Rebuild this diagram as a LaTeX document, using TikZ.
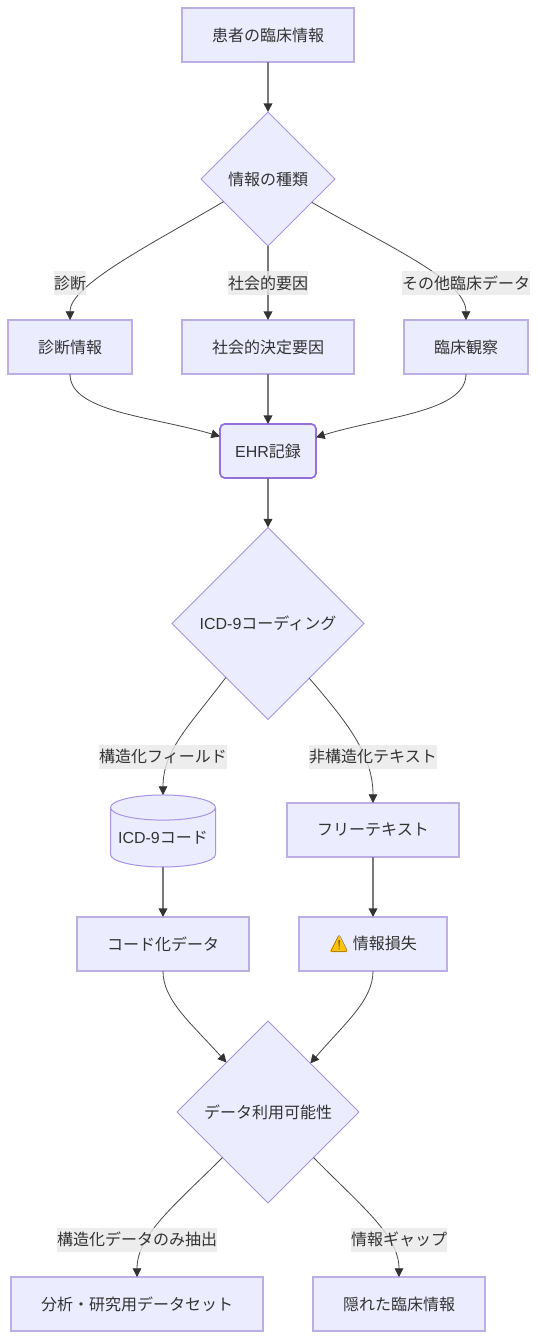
\documentclass[tikz,border=0pt]{standalone}
\usepackage{fontspec}
\setmainfont{Noto Sans CJK JP}
\newfontfamily\latin{Liberation Sans}
\newfontfamily\emojifont{Noto Emoji}
\usetikzlibrary{arrows.meta,shapes.geometric}
\definecolor{nodefill}{HTML}{ECECFF}
\definecolor{nodeline}{HTML}{BDAEE6}
\definecolor{thinline}{HTML}{A893E2}
\definecolor{ehrline}{HTML}{9370DB}
\definecolor{ink}{HTML}{333333}
\definecolor{greyline}{HTML}{7A7A7A}
\definecolor{labelbg}{HTML}{E8E8E8}
\tikzset{
  base/.style={fill=nodefill,draw=nodeline,line width=1.2pt,text=ink,inner sep=0pt,outer sep=0pt,font=\fontsize{12}{14}\selectfont},
  procbox/.style={base,rectangle,minimum width=#1*0.75pt,minimum height=54*0.75pt},
  ehrbox/.style={base,rectangle,draw=ehrline,rounded corners=3.5pt,line width=1.3pt,minimum width=96*0.75pt,minimum height=54*0.75pt},
  choice/.style={base,diamond,draw=thinline,line width=0.75pt,aspect=1,minimum width=#1*0.75pt,minimum height=#1*0.75pt},
  dbase/.style={base,cylinder,draw=thinline,line width=0.75pt,shape border rotate=90,aspect=0.28,minimum width=105*0.75pt,minimum height=72*0.75pt},
  edgeline/.style={draw=ink!90,line width=0.6pt,-{Stealth[inset=0pt,length=6.5pt,width=6.5pt,color=ink]}},
  straightline/.style={draw=greyline,line width=1.2pt,-{Stealth[inset=0pt,length=6.5pt,width=6.5pt,color=ink]}},
  edgetext/.style={rectangle,fill=labelbg,fill opacity=0.8,text opacity=1,text=ink,inner sep=0pt,minimum width=#1*0.75pt,minimum height=24*0.75pt,font=\fontsize{12}{14}\selectfont},
}
\begin{document}
\begin{tikzpicture}[x=0.75pt,y=-0.75pt]
\path[use as bounding box] (0,0) rectangle (538,1339);
\node[procbox=172] (A) at (268,35) {患者の臨床情報};
\node[choice=134] (B) at (268,179) {情報の種類};
\node[procbox=124] (C) at (70,347) {診断情報};
\node[procbox=172] (D) at (268,347) {社会的決定要因};
\node[procbox=124] (E) at (466,347) {臨床観察};
\node[ehrbox] (F) at (268,451) {{\latin EHR}記録};
\node[choice=192] (G) at (268,623.5) {{\latin ICD-9}コーディング};
\node[dbase] (H) at (163,837.5) {{\latin ICD-9}コード};
\node[procbox=172] (I) at (373,830) {フリーテキスト};
\node[procbox=172] (J) at (163,944) {コード化データ};
\node[procbox=148,path picture={
  \fill[yellow!55!orange,rounded corners=0.8pt]
   ([xshift=-34.4*0.75pt,yshift=8.5*0.75pt]path picture bounding box.center)
   -- ([xshift=-43.5*0.75pt,yshift=-8*0.75pt]path picture bounding box.center)
   -- ([xshift=-25.5*0.75pt,yshift=-8*0.75pt]path picture bounding box.center) -- cycle;
}] (K) at (373,944) {{\emojifont\color[HTML]{8A5E00}⚠} 情報損失};
\node[choice=182] (L) at (268,1112) {データ利用可能性};
\node[procbox=252] (M) at (137,1304) {分析・研究用データセット};
\node[procbox=172] (N) at (399,1304) {隠れた臨床情報};

\draw[straightline] (A) -- (B);
\draw[edgeline] (B.207.6) .. controls (150,245) and (70,285) .. (C.north);
\draw[straightline] (B) -- (D);
\draw[edgeline] (B.332.4) .. controls (385,245) and (466,280) .. (E.north);
\draw[edgeline] (C.south) .. controls (70,412) and (150,416) .. (F.163.7);
\draw[straightline] (D) -- (F);
\draw[edgeline] (E.south) .. controls (466,412) and (386,416) .. (F.16.3);
\draw[straightline] (F) -- (G);
\draw[edgeline] (G.232.4) .. controls (190,725) and (163,750) .. (H.north);
\draw[edgeline] (G.307.6) .. controls (347,722) and (373,755) .. (I.north);
\draw[straightline] (H.south) -- (J.north);
\draw[straightline] (I) -- (K);
\draw[edgeline] (J.south) .. controls (163,1000) and (190,1022) .. (L.130.6);
\draw[edgeline] (K.south) .. controls (373,1000) and (346,1022) .. (L.49.4);
\draw[edgeline] (L.225) .. controls (175,1205) and (137,1235) .. (M.north);
\draw[edgeline] (L.315) .. controls (360,1205) and (399,1235) .. (N.north);

\node[edgetext=32] (l1) at (70,283) {診断};
\node[edgetext=80] (l2) at (268,283) {社会的要因};
\node[edgetext=128] (l3) at (466,283) {その他臨床データ};
\node[edgetext=128] (l4) at (163,756.5) {構造化フィールド};
\node[edgetext=128] (l5) at (373,756.5) {非構造化テキスト};
\node[edgetext=160] (l6) at (137,1239.5) {構造化データのみ抽出};
\node[edgetext=96] (l7) at (399,1239.5) {情報ギャップ};
\end{tikzpicture}
\end{document}
